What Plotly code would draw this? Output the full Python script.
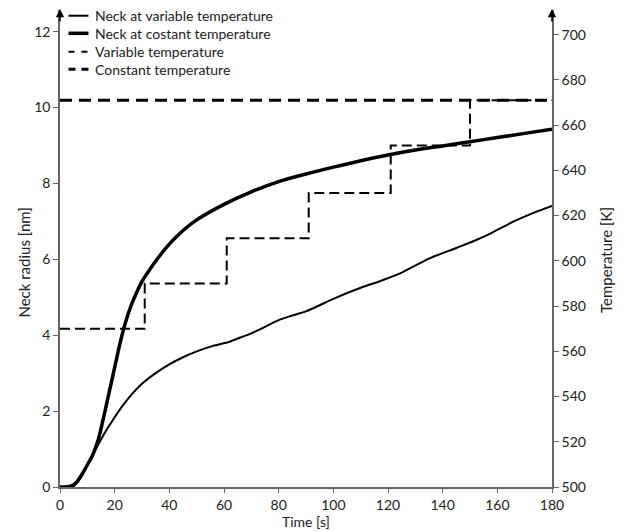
import plotly.graph_objects as go

# Neck at variable temperature (thin solid)
t_var = [0, 3, 5, 8, 10, 12, 14, 17, 20, 23, 26, 30, 35, 40, 45, 51, 56, 62, 66, 70, 75, 80, 85, 90,
         95, 100, 110, 118, 125, 135, 145, 151, 158, 166, 173, 180]
r_var = [0, 0, 0.03, 0.3, 0.58, 0.85, 1.12, 1.5, 1.84, 2.15, 2.42, 2.72, 3.0, 3.23, 3.42, 3.6, 3.72,
         3.83, 3.94, 4.05, 4.22, 4.4, 4.52, 4.63, 4.79, 4.96, 5.25, 5.45, 5.65, 6.02, 6.3, 6.47, 6.7,
         7.0, 7.22, 7.41]

# Neck at constant temperature (thick solid)
t_con = [0, 4, 6, 8, 10, 12, 14, 16, 18, 20, 22, 24, 26, 28, 30, 33, 36, 40, 45, 50, 60, 70, 80, 90,
         100, 110, 120, 130, 140, 150, 160, 170, 180]
r_con = [0, 0.02, 0.12, 0.33, 0.58, 0.85, 1.25, 1.85, 2.5, 3.15, 3.8, 4.35, 4.78, 5.12, 5.42, 5.75,
         6.05, 6.4, 6.76, 7.04, 7.45, 7.78, 8.05, 8.25, 8.43, 8.6, 8.75, 8.88, 8.99, 9.1, 9.21, 9.32, 9.43]

# Variable temperature steps (K)
t_step = [0, 31, 61, 91, 121, 150, 180]
T_step = [570, 590, 610, 630, 651, 671, 671]

# Constant temperature (K)
t_const = [0, 180]
T_const = [671, 671]

legend_labels = ["Neck at variable temperature", "Neck at costant temperature",
                 "Variable temperature", "Constant temperature"]

FONT = "Lato"
AX = "#666666"
TXT = "#222222"

# page offset (default body margin of the html page)
OFF = 8
W, H = 624 - OFF, 531 - OFF
# plot area in window pixels
L, R, T, B = 59.5, 552, 10, 487

fig = go.Figure()
fig.add_trace(go.Scatter(x=t_var, y=r_var, mode="lines", line=dict(color="black", width=2, shape="spline", smoothing=0.8),
                         name=legend_labels[0], showlegend=False))
fig.add_trace(go.Scatter(x=t_con, y=r_con, mode="lines", line=dict(color="black", width=3.5, shape="spline", smoothing=0.8),
                         name=legend_labels[1], showlegend=False))
fig.add_trace(go.Scatter(x=t_step, y=T_step, mode="lines", yaxis="y2",
                         line=dict(color="black", width=2, dash="10px,5px", shape="hv"),
                         name=legend_labels[2], showlegend=False))
fig.add_trace(go.Scatter(x=t_const, y=T_const, mode="lines", yaxis="y2",
                         line=dict(color="black", width=3, dash="12px,7px"),
                         name=legend_labels[3], showlegend=False))

axcommon = dict(showgrid=False, zeroline=False, showline=True, linecolor=AX, linewidth=1.5,
                ticks="outside", tickcolor=AX, automargin=False,
                tickfont=dict(family=FONT, size=14, color=TXT))

fig.update_layout(
    width=W, height=H,
    margin=dict(l=L - OFF, r=(W + OFF) - R, t=T - OFF, b=(H + OFF) - B, pad=0),
    paper_bgcolor="white", plot_bgcolor="white",
    font=dict(family=FONT, size=14, color=TXT),
    showlegend=False,
    xaxis=dict(range=[0, 180], tickvals=list(range(0, 181, 20)), ticklen=4, **axcommon),
    yaxis=dict(range=[0, 12.572], tickvals=[0, 2, 4, 6, 8, 10, 12], ticklen=5, **axcommon),
    yaxis2=dict(range=[500, 710.9], tickvals=list(range(500, 701, 20)), overlaying="y", side="right",
                ticklen=5, **axcommon),
)

def px(xp):
    return (xp - L) / (R - L)

def py(yp):
    return (B - yp) / (B - T)

# axis titles
fig.add_annotation(x=px(306), y=py(521), xref="paper", yref="paper", text="Time [s]", showarrow=False,
                   font=dict(family=FONT, size=14, color=TXT), xanchor="center", yanchor="middle")
fig.add_annotation(x=px(23), y=py(263), xref="paper", yref="paper", text="Neck radius [nm]", showarrow=False,
                   textangle=-90, font=dict(family=FONT, size=15, color=TXT), xanchor="center", yanchor="middle")
fig.add_annotation(x=px(606), y=py(260), xref="paper", yref="paper", text="Temperature [K]", showarrow=False,
                   textangle=-90, font=dict(family=FONT, size=15, color=TXT), xanchor="center", yanchor="middle")

# axis arrows
for xp in [0, 1]:
    fig.add_annotation(x=xp, y=py(7), xref="paper", yref="paper", ax=0, ay=16, showarrow=True,
                       arrowhead=2, arrowsize=1.1, arrowwidth=1.5, arrowcolor="black", text="")

# legend (drawn manually to match compact spacing)
rows = [15.7, 33.3, 51.7, 69.3]
styles = [dict(width=2, dash="solid"), dict(width=3.5, dash="solid"),
          dict(width=2, dash="6px,7px"), dict(width=3, dash="7px,6px")]
for lab, yr, st in zip(legend_labels, rows, styles):
    fig.add_shape(type="line", xref="paper", yref="paper", x0=px(68), x1=px(88), y0=py(yr), y1=py(yr),
                  line=dict(color="black", **st))
    fig.add_annotation(x=px(93), y=py(yr), xref="paper", yref="paper", text=lab, showarrow=False,
                       xanchor="left", yanchor="middle", font=dict(family=FONT, size=14, color=TXT))

fig.write_html("out.html")
